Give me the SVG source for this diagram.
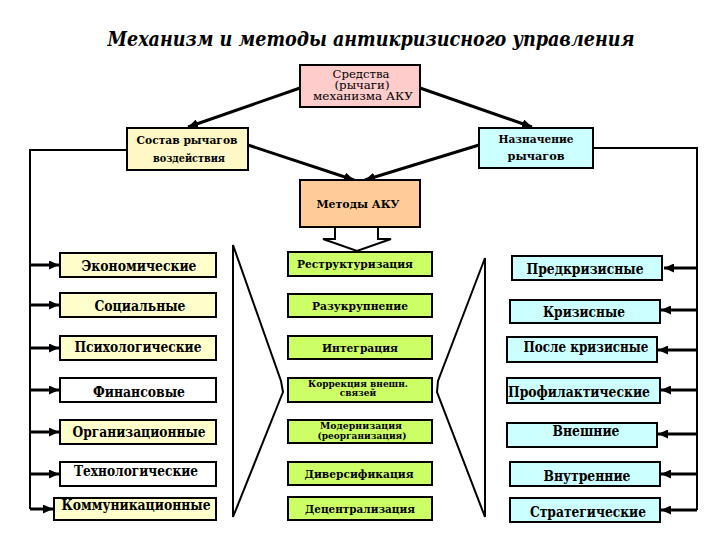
<svg xmlns="http://www.w3.org/2000/svg" width="720" height="540" viewBox="0 0 720 540">
<defs>
<marker id="ah" markerUnits="userSpaceOnUse" markerWidth="10" markerHeight="9" refX="10" refY="4.5" orient="auto">
<path d="M0,0 L10,4.5 L0,9 Z" fill="#000"/>
</marker>
<style>
text{font-family:"DejaVu Serif","Liberation Serif",serif;fill:#000;text-anchor:middle}
.box{stroke:#000;stroke-width:2}
.t{font-weight:bold}
.l{font-size:14px}
.m{font-size:11px}
.s{font-size:9px}
.r{font-size:10.5px}
.ln{fill:none;stroke:#000;stroke-width:2}
.ar{fill:none;stroke:#000;stroke-width:3;marker-end:url(#ah)}
.y{fill:#FFFFCC}
.w{fill:#FFFFFF}
.c{fill:#CCFFFF}
.g{fill:#CCFF66}
</style>
</defs>
<rect width="720" height="540" fill="#fff"/>
<text x="371" y="46" textLength="527" lengthAdjust="spacingAndGlyphs" style="font-weight:bold;font-style:italic;font-size:20px">Механизм и методы антикризисного управления</text>

<g id="connectors">
<line class="ar" x1="300" y1="88" x2="188" y2="127"/>
<line class="ar" x1="420" y1="88" x2="532" y2="127"/>
<line class="ar" x1="248" y1="145" x2="354" y2="180"/>
<line class="ar" x1="479" y1="145" x2="365" y2="180"/>
<path class="ln" d="M335,227 V239 H323 L357,251 L391,239 H378 V227"/>
<polyline class="ln" points="127,150 30,150 30,509"/>
<line class="ar" x1="30" y1="265" x2="59" y2="265"/>
<line class="ar" x1="30" y1="305" x2="59" y2="305"/>
<line class="ar" x1="30" y1="348" x2="59" y2="348"/>
<line class="ar" x1="30" y1="390" x2="59" y2="390"/>
<line class="ar" x1="30" y1="432" x2="59" y2="432"/>
<line class="ar" x1="30" y1="474" x2="59" y2="474"/>
<line class="ar" x1="30" y1="509" x2="53" y2="509"/>
<polyline class="ln" points="593,148 697,148 697,510"/>
<line class="ar" x1="697" y1="268" x2="664" y2="268"/>
<line class="ar" x1="697" y1="310" x2="661" y2="310"/>
<line class="ar" x1="697" y1="350" x2="658" y2="350"/>
<line class="ar" x1="697" y1="390" x2="661" y2="390"/>
<line class="ar" x1="697" y1="434" x2="658" y2="434"/>
<line class="ar" x1="697" y1="474" x2="661" y2="474"/>
<line class="ar" x1="697" y1="510" x2="661" y2="510"/>
<polygon class="ln" points="233,245 281,381 283,392 233,517"/>
<polygon class="ln" points="485,258 438,381 437,392 485,517"/>
</g>

<g id="sredstva">
<rect class="box" x="300" y="65" width="120" height="42" fill="#FFCCCC"/>
<text class="r" x="361" y="78" textLength="57" lengthAdjust="spacingAndGlyphs">Средства</text>
<text class="r" x="362" y="89" textLength="55" lengthAdjust="spacingAndGlyphs">(рычаги)</text>
<text class="r" x="363" y="100" textLength="100" lengthAdjust="spacingAndGlyphs">механизма АКУ</text>
</g>
<g id="sostav">
<rect class="box" x="127" y="128" width="121" height="42" fill="#FFF8C6"/>
<text class="t m" x="187" y="144" textLength="101" lengthAdjust="spacingAndGlyphs">Состав рычагов</text>
<text class="t m" x="189" y="162" textLength="72" lengthAdjust="spacingAndGlyphs">воздействия</text>
</g>
<g id="naznachenie">
<rect class="box c" x="479" y="128" width="114" height="40"/>
<text class="t m" x="536" y="143" textLength="75" lengthAdjust="spacingAndGlyphs">Назначение</text>
<text class="t m" x="536" y="160" textLength="57" lengthAdjust="spacingAndGlyphs">рычагов</text>
</g>
<g id="metody">
<rect class="box" x="300" y="180" width="120" height="47" fill="#FFCC99"/>
<text class="t m" x="358" y="208" textLength="83" lengthAdjust="spacingAndGlyphs">Методы АКУ</text>
</g>

<g id="left-1"><rect class="box y" x="60" y="253" width="156" height="24"/><text class="t l" x="139" y="271" textLength="115" lengthAdjust="spacingAndGlyphs">Экономические</text></g>
<g id="left-2"><rect class="box y" x="60" y="293" width="156" height="24"/><text class="t l" x="140" y="311" textLength="91" lengthAdjust="spacingAndGlyphs">Социальные</text></g>
<g id="left-3"><rect class="box y" x="60" y="336" width="156" height="24"/><text class="t l" x="138" y="352" textLength="127" lengthAdjust="spacingAndGlyphs">Психологические</text></g>
<g id="left-4"><rect class="box w" x="60" y="378" width="156" height="24"/><text class="t l" x="139" y="397" textLength="92" lengthAdjust="spacingAndGlyphs">Финансовые</text></g>
<g id="left-5"><rect class="box y" x="60" y="420" width="156" height="24"/><text class="t l" x="139" y="437" textLength="133" lengthAdjust="spacingAndGlyphs">Организационные</text></g>
<g id="left-6"><rect class="box w" x="60" y="462" width="156" height="24"/><text class="t l" x="136" y="476" textLength="124" lengthAdjust="spacingAndGlyphs">Технологические</text></g>
<g id="left-7"><rect class="box y" x="54" y="498" width="162" height="22"/><text class="t l" x="136" y="510" textLength="149" lengthAdjust="spacingAndGlyphs">Коммуникационные</text></g>

<g id="mid-1"><rect class="box g" x="288" y="252" width="144" height="24"/><text class="t m" x="355" y="268" textLength="116" lengthAdjust="spacingAndGlyphs">Реструктуризация</text></g>
<g id="mid-2"><rect class="box g" x="288" y="294" width="144" height="23"/><text class="t m" x="360" y="310" textLength="96" lengthAdjust="spacingAndGlyphs">Разукрупнение</text></g>
<g id="mid-3"><rect class="box g" x="288" y="336" width="144" height="23"/><text class="t m" x="360" y="352" textLength="76" lengthAdjust="spacingAndGlyphs">Интеграция</text></g>
<g id="mid-4"><rect class="box g" x="288" y="378" width="144" height="24"/><text class="t s" x="358" y="387" textLength="100" lengthAdjust="spacingAndGlyphs">Коррекция внешн.</text><text class="t s" x="358" y="396">связей</text></g>
<g id="mid-5"><rect class="box g" x="288" y="420" width="144" height="23"/><text class="t s" x="361" y="429" textLength="82" lengthAdjust="spacingAndGlyphs">Модернизация</text><text class="t s" x="362" y="439" textLength="89" lengthAdjust="spacingAndGlyphs">(реорганизация)</text></g>
<g id="mid-6"><rect class="box g" x="288" y="462" width="144" height="23"/><text class="t m" x="359" y="478" textLength="109" lengthAdjust="spacingAndGlyphs">Диверсификация</text></g>
<g id="mid-7"><rect class="box g" x="288" y="497" width="144" height="23"/><text class="t m" x="360" y="513" textLength="110" lengthAdjust="spacingAndGlyphs">Децентрализация</text></g>

<g id="right-1"><rect class="box c" x="512" y="256" width="150" height="24"/><text class="t l" x="585" y="274" textLength="117" lengthAdjust="spacingAndGlyphs">Предкризисные</text></g>
<g id="right-2"><rect class="box c" x="510" y="300" width="150" height="23"/><text class="t l" x="584" y="317" textLength="82" lengthAdjust="spacingAndGlyphs">Кризисные</text></g>
<g id="right-3"><rect class="box c" x="507" y="337" width="150" height="25"/><text class="t l" x="586" y="352" textLength="125" lengthAdjust="spacingAndGlyphs">После кризисные</text></g>
<g id="right-4"><rect class="box c" x="507" y="378" width="153" height="25"/><text class="t l" x="579" y="397" textLength="142" lengthAdjust="spacingAndGlyphs">Профилактические</text></g>
<g id="right-5"><rect class="box c" x="507" y="423" width="150" height="24"/><text class="t l" x="586" y="436" textLength="67" lengthAdjust="spacingAndGlyphs">Внешние</text></g>
<g id="right-6"><rect class="box c" x="510" y="462" width="150" height="24"/><text class="t l" x="587" y="481" textLength="87" lengthAdjust="spacingAndGlyphs">Внутренние</text></g>
<g id="right-7"><rect class="box c" x="510" y="498" width="150" height="24"/><text class="t l" x="588" y="517" textLength="116" lengthAdjust="spacingAndGlyphs">Стратегические</text></g>
</svg>
